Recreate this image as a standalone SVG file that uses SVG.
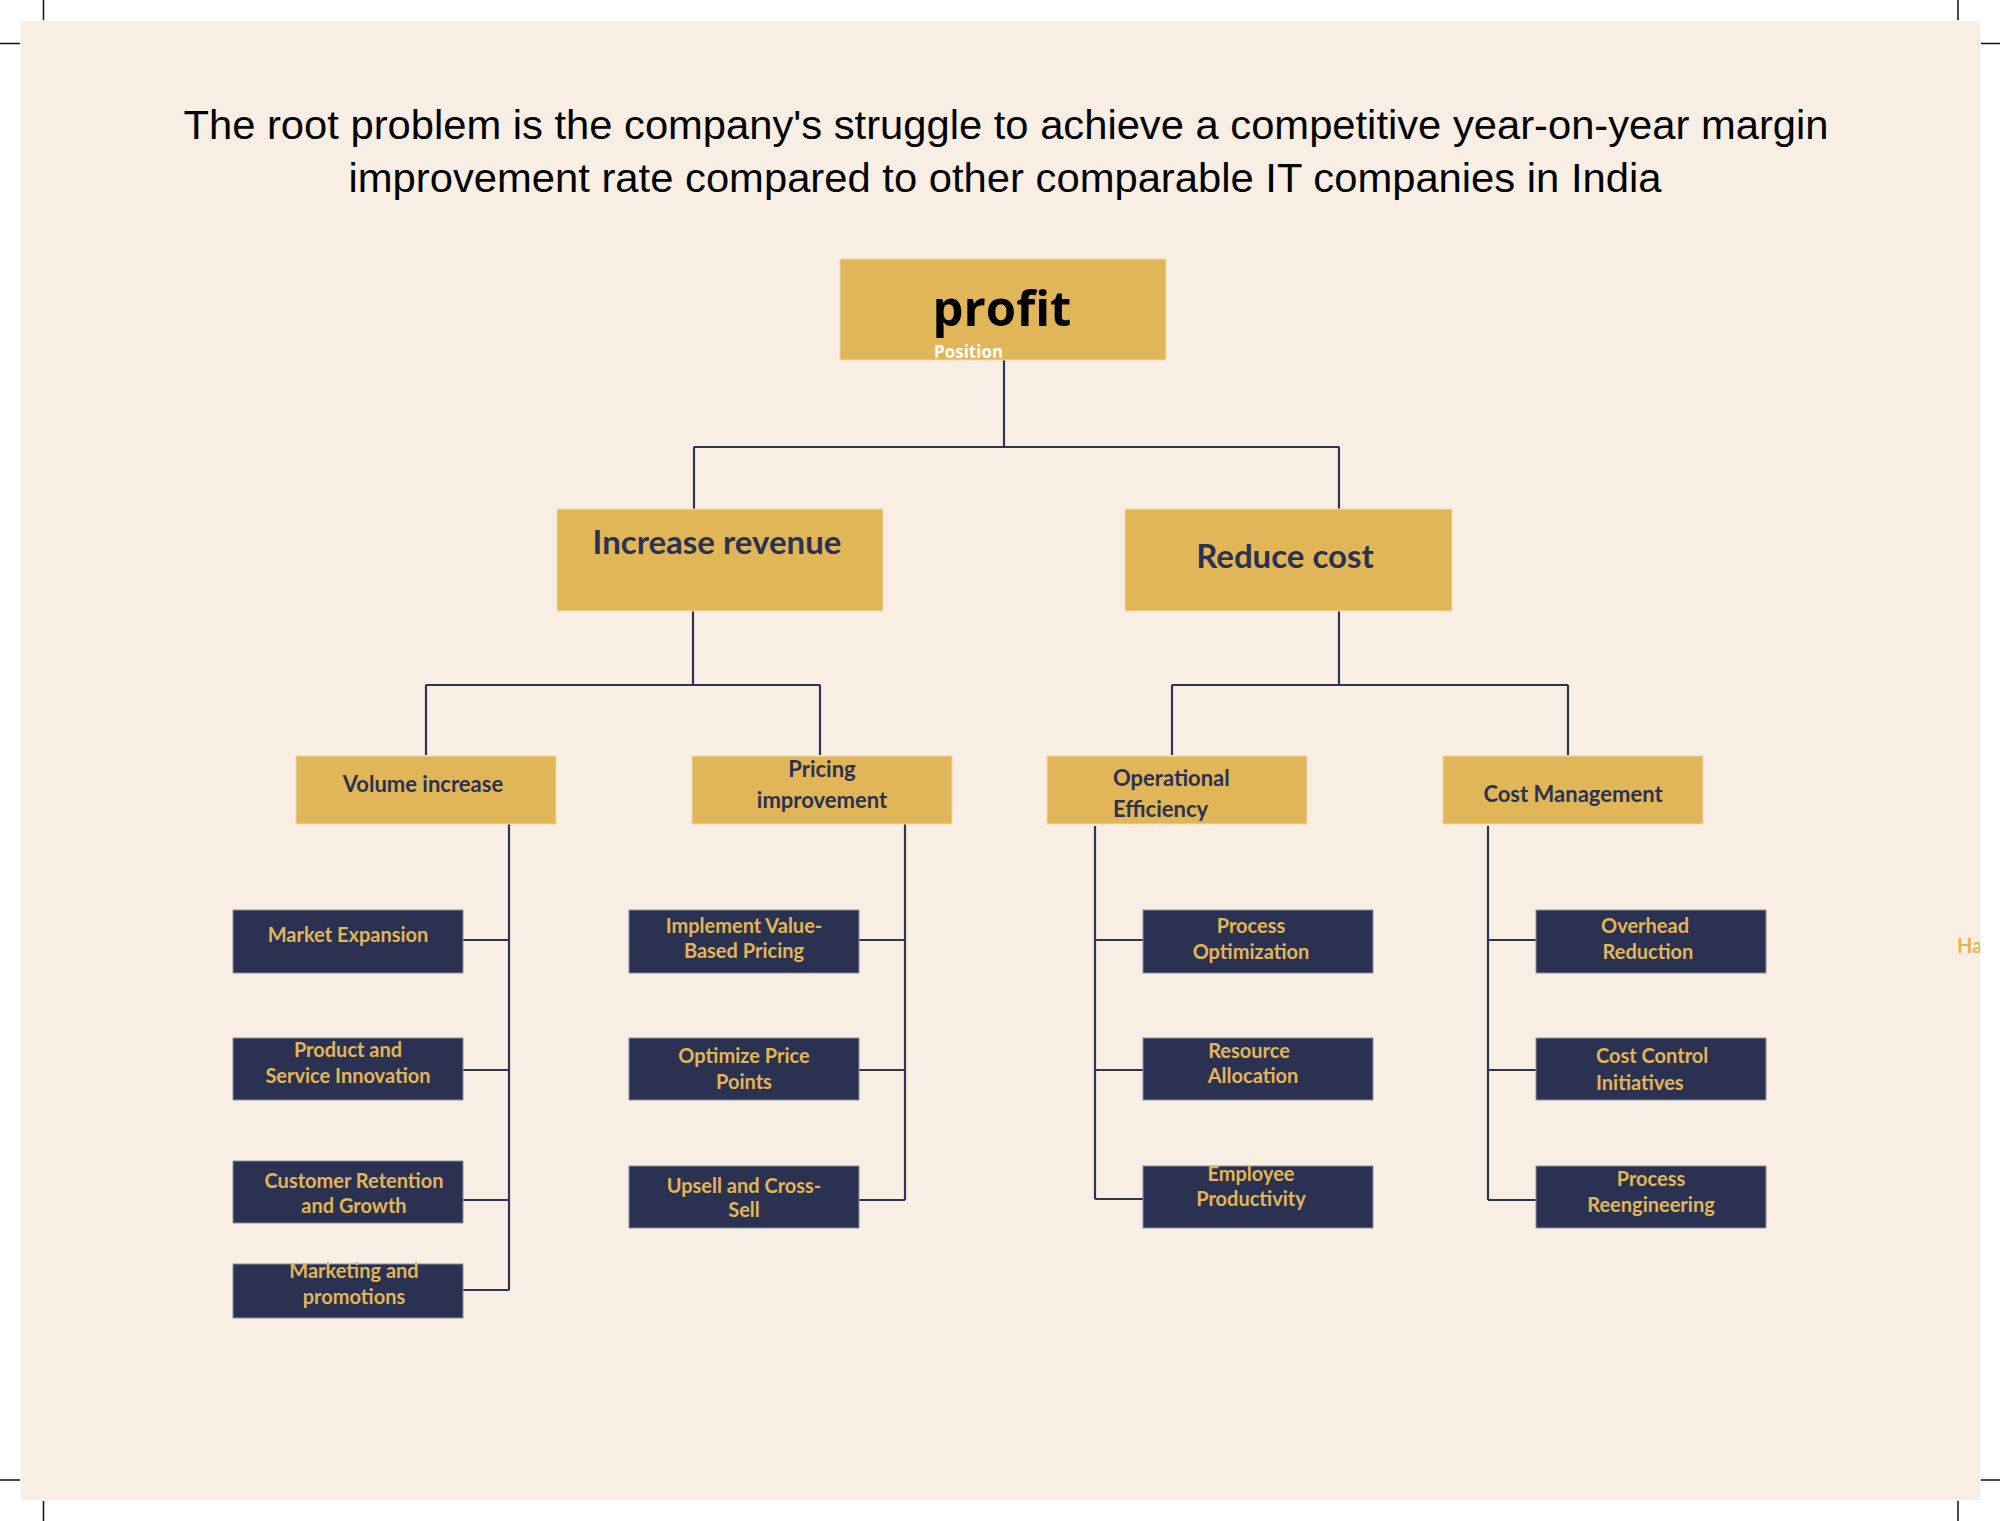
<svg xmlns="http://www.w3.org/2000/svg" width="2000" height="1521" viewBox="0 0 2000 1521">
<defs>
<style>
.panel{fill:#F9EEE4}
.crop{stroke:#111;stroke-width:1.5}
.gold{fill:#E1B658;stroke:#EFD9A8;stroke-width:1}
.navy{fill:#2B3151;stroke:#8C8EA3;stroke-width:1}
.con{stroke:#2F3452;stroke-width:2.2;fill:none}
.title{font-family:"Liberation Sans","DejaVu Sans",sans-serif;font-size:40px;fill:#000}
.mid{font-family:Lato,"Liberation Sans",sans-serif;font-weight:bold;font-size:22px;fill:#2B3151}
.big{font-family:Lato,"Liberation Sans",sans-serif;font-weight:bold;font-size:33px;fill:#2B3151}
.leaf{font-family:Lato,"Liberation Sans",sans-serif;font-weight:bold;font-size:20px;fill:#E1B658}
.c{text-anchor:middle}
</style>
<clipPath id="pc"><rect x="21" y="21" width="1959" height="1479"/></clipPath>
</defs>
<rect width="2000" height="1521" fill="#fff"/>
<rect class="panel" x="21" y="21" width="1959" height="1479"/>
<g id="cropmarks">
<line class="crop" x1="43.5" y1="0" x2="43.5" y2="20"/>
<line class="crop" x1="0" y1="43.5" x2="20" y2="43.5"/>
<line class="crop" x1="1958" y1="0" x2="1958" y2="20"/>
<line class="crop" x1="1981" y1="43.5" x2="2000" y2="43.5"/>
<line class="crop" x1="0" y1="1480" x2="20" y2="1480"/>
<line class="crop" x1="43.5" y1="1501" x2="43.5" y2="1521"/>
<line class="crop" x1="1981" y1="1480" x2="2000" y2="1480"/>
<line class="crop" x1="1958" y1="1501" x2="1958" y2="1521"/>
</g>
<g id="title">
<text class="title c" x="1006" y="139" textLength="1645" lengthAdjust="spacingAndGlyphs">The root problem is the company's struggle to achieve a competitive year-on-year margin</text>
<text class="title c" x="1005" y="192" textLength="1313" lengthAdjust="spacingAndGlyphs">improvement rate compared to other comparable IT companies in India</text>
</g>
<g id="connectors">
<path class="con" d="M1004 360V447M694 447H1339M694 447V509M1339 447V509"/>
<path class="con" d="M693 611V685M426 685H820M426 685V755M820 685V755"/>
<path class="con" d="M1339 611V685M1172 685H1568M1172 685V755M1568 685V755"/>
<path class="con" d="M509 824V1290M463 940H509M463 1070H509M463 1200H509M463 1290H509"/>
<path class="con" d="M905 824V1200M859 940H905M859 1070H905M859 1200H905"/>
<path class="con" d="M1095 826V1199M1095 940H1143M1095 1070H1143M1095 1199H1143"/>
<path class="con" d="M1488 826V1200M1488 940H1536M1488 1070H1536M1488 1200H1536"/>
</g>
<g id="profit">
<rect class="gold" x="840" y="259" width="326" height="101"/>
<text x="1002" y="326" class="c" style="font-family:'Open Sans','Noto Sans',sans-serif;font-weight:bold;font-size:49px;fill:#000">profit</text>
<text x="934" y="358" style="font-family:'Open Sans','Noto Sans',sans-serif;font-weight:bold;font-size:17px;fill:#fff">Position</text>
</g>
<g id="increase-revenue">
<rect class="gold" x="557" y="509" width="326" height="102"/>
<text class="big c" x="717" y="554">Increase revenue</text>
</g>
<g id="reduce-cost">
<rect class="gold" x="1125" y="509" width="327" height="102"/>
<text class="big c" x="1285" y="568">Reduce cost</text>
</g>
<g id="volume-increase">
<rect class="gold" x="296" y="756" width="260" height="68"/>
<text class="mid c" x="423" y="792">Volume increase</text>
</g>
<g id="pricing-improvement">
<rect class="gold" x="692" y="756" width="260" height="68"/>
<text class="mid c" x="822" y="777">Pricing</text>
<text class="mid c" x="822" y="808">improvement</text>
</g>
<g id="operational-efficiency">
<rect class="gold" x="1047" y="756" width="260" height="68"/>
<text class="mid" x="1113" y="786">Operational</text>
<text class="mid" x="1113" y="817">Efficiency</text>
</g>
<g id="cost-management">
<rect class="gold" x="1443" y="756" width="260" height="68"/>
<text class="mid c" x="1573" y="802">Cost Management</text>
</g>
<g id="market-expansion">
<rect class="navy" x="233" y="910" width="230" height="63"/>
<text class="leaf c" x="348" y="942">Market Expansion</text>
</g>
<g id="product-service-innovation">
<rect class="navy" x="233" y="1038" width="230" height="62"/>
<text class="leaf c" x="348" y="1057">Product and</text>
<text class="leaf c" x="348" y="1083">Service Innovation</text>
</g>
<g id="customer-retention">
<rect class="navy" x="233" y="1161" width="230" height="62"/>
<text class="leaf c" x="354" y="1188">Customer Retention</text>
<text class="leaf c" x="354" y="1213">and Growth</text>
</g>
<g id="marketing-promotions">
<rect class="navy" x="233" y="1264" width="230" height="54"/>
<text class="leaf c" x="354" y="1278">Marketing and</text>
<text class="leaf c" x="354" y="1304">promotions</text>
</g>
<g id="value-based-pricing">
<rect class="navy" x="629" y="910" width="230" height="63"/>
<text class="leaf c" x="744" y="933">Implement Value-</text>
<text class="leaf c" x="744" y="958">Based Pricing</text>
</g>
<g id="optimize-price-points">
<rect class="navy" x="629" y="1038" width="230" height="62"/>
<text class="leaf c" x="744" y="1063">Optimize Price</text>
<text class="leaf c" x="744" y="1089">Points</text>
</g>
<g id="upsell-cross-sell">
<rect class="navy" x="629" y="1166" width="230" height="62"/>
<text class="leaf c" x="744" y="1193">Upsell and Cross-</text>
<text class="leaf c" x="744" y="1217">Sell</text>
</g>
<g id="process-optimization">
<rect class="navy" x="1143" y="910" width="230" height="63"/>
<text class="leaf c" x="1251" y="933">Process</text>
<text class="leaf c" x="1251" y="959">Optimization</text>
</g>
<g id="resource-allocation">
<rect class="navy" x="1143" y="1038" width="230" height="62"/>
<text class="leaf c" x="1249" y="1058">Resource</text>
<text class="leaf c" x="1253" y="1083">Allocation</text>
</g>
<g id="employee-productivity">
<rect class="navy" x="1143" y="1166" width="230" height="62"/>
<text class="leaf c" x="1251" y="1181">Employee</text>
<text class="leaf c" x="1251" y="1206">Productivity</text>
</g>
<g id="overhead-reduction">
<rect class="navy" x="1536" y="910" width="230" height="63"/>
<text class="leaf c" x="1645" y="933">Overhead</text>
<text class="leaf c" x="1648" y="959">Reduction</text>
</g>
<g id="cost-control-initiatives">
<rect class="navy" x="1536" y="1038" width="230" height="62"/>
<text class="leaf" x="1596" y="1063">Cost Control</text>
<text class="leaf" x="1596" y="1090">Initiatives</text>
</g>
<g id="process-reengineering">
<rect class="navy" x="1536" y="1166" width="230" height="62"/>
<text class="leaf c" x="1651" y="1186">Process</text>
<text class="leaf c" x="1651" y="1212">Reengineering</text>
</g>
<g id="clipped-label" clip-path="url(#pc)">
<text class="leaf" x="1957" y="953">Ha</text>
</g>
</svg>
